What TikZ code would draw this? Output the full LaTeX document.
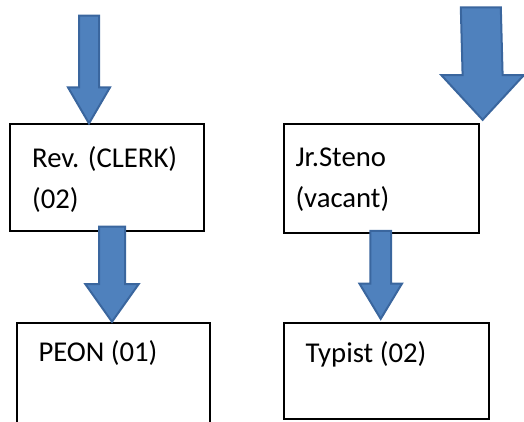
\documentclass[tikz,border=0pt]{standalone}
\usepackage{fontspec}
\setmainfont{Carlito}
\usetikzlibrary{calc}

\definecolor{arrowfill}{HTML}{4F81BD}
\definecolor{arrowline}{HTML}{3A669E}

\tikzset{
  post/.style={draw=black, line width=1.8pt, rectangle, inner sep=0pt},
  posttext/.style={anchor=base west, inner sep=0pt, align=left,
    font=\fontsize{28.7}{41}\selectfont},
  blockarrow/.style={fill=arrowfill, draw=arrowline, line width=2pt, line join=miter}
}

% top point, tip point, half shaft, half head, head length
\newcommand{\blockarrow}[5]{%
  \draw[blockarrow] ($(#1)+(-#3,0)$) -- ($(#1)+(#3,0)$) -- ($(#2)+(#3,-#5)$)
    -- ($(#2)+(#4,-#5)$) -- (#2) -- ($(#2)+(-#4,-#5)$) -- ($(#2)+(-#3,-#5)$) -- cycle;}

\begin{document}
\begin{tikzpicture}[x=1pt, y=-1pt]
		\useasboundingbox (0,0) rectangle (524,421);
		\clip (0,0) rectangle (524,421);
		% boxes
		\node[post, minimum width=194.3pt, minimum height=106.4pt] (rev) at (107.2,177.5) { };
		\node[post, minimum width=195pt, minimum height=108.4pt] (steno) at (381.2,178.5) { };
		\node[post, minimum width=193.3pt, minimum height=127.3pt] (peon) at (113.3,386.3) { };
		\node[post, minimum width=205pt, minimum height=96.3pt] (typist) at (386.2,370.9) { };
		% texts (base = last line)
		\node[posttext] (revtext) at (32,208) {Rev. (CLERK)\\(02)};
		\node[posttext] (stenotext) at (295.3,207.7) {Jr.Steno\\(vacant)};
		\node[posttext] (peontext) at (38.3,361.7) {PEON (01)};
		\node[posttext] (typisttext) at (305.3,362.7) {Typist (02)};
		% arrows
		\coordinate (a1tip) at ($(rev.north)+(-18.2,0)$);
		\coordinate (a1top) at (a1tip |- 0,15.7);
		\coordinate (a2top) at ($(rev.south)+(4.8,-5)$);
		\coordinate (a2tip) at (peon.north -| a2top);
		\coordinate (a3tip) at ($(steno.north east)+(3,-3.6)$);
		\coordinate (a3top) at (480.8,7.3);
		\coordinate (a4top) at ($(steno.south)+(-0.5,-2.7)$);
		\coordinate (a4tip) at ($(typist.north -| a4top)+(0,-3)$);
		\blockarrow{a1top}{a1tip}{10}{21}{36}
		\blockarrow{a2top}{a2tip}{13}{26.7}{37.7}
		\blockarrow{a3top}{a3tip}{20}{41.3}{44.7}
		\blockarrow{a4top}{a4tip}{10.3}{21.3}{35.3}
\end{tikzpicture}
\end{document}
